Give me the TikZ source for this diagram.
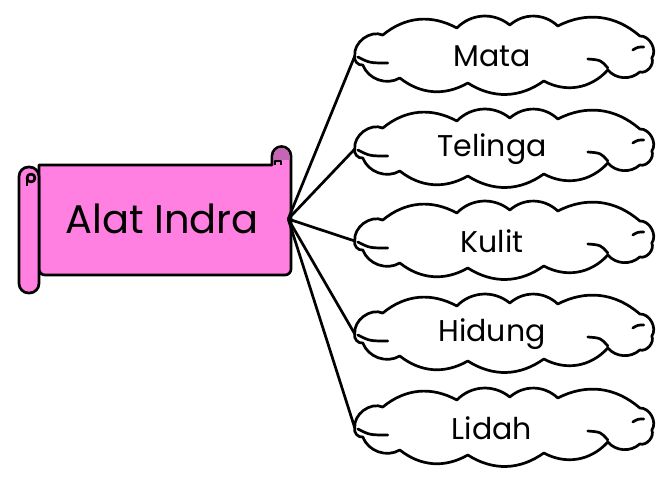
\documentclass[tikz,border=0pt]{standalone}
\usepackage{fontspec}
\setmainfont{Poppins}
\usetikzlibrary{calc}
\definecolor{ScrollPink}{HTML}{FF80E0}
\definecolor{ScrollCurl}{HTML}{C566B5}
% cloud outline drawn from the west tip of a sense node
\newcommand{\senseCloud}[1]{%
  \begin{scope}[shift={(#1.west)}]
    \draw[puffline] (0,0) to[bend left=60] (28,21) to[bend left=34] (102,28)
      to[bend left=42] (155,31) to[bend left=42] (203,30)
      to[bend left=34] (285,20) to[bend left=65] (297,-2)
      to[bend left=65] (285,-16) to[bend left=45] (253,-14)
      to[bend left=38] (189,-25) to[bend left=34] (113,-27)
      to[bend left=34] (45,-22) to[bend left=50] (8,-9)
      to[bend left=60] cycle;
    \draw[puffline] (3,-1) .. controls (15,-7) .. (33,-7);
    \draw[puffline] (233,-3) .. controls (246,-4) .. (253,-12);
    \draw[puffline] (278,6) .. controls (283,9) .. (289,9);
  \end{scope}}

\begin{document}
\begin{tikzpicture}[x=1pt,y=1pt,
  scrollline/.style={line width=2.7pt,line join=round},
  sense/.style={minimum width=274pt,minimum height=72pt,inner sep=0pt,
    font=\fontsize{30}{36}\selectfont},
  link/.style={line width=2.7pt},
  puffline/.style={line width=2.7pt,line cap=round,line join=round}]
  \useasboundingbox (0,0) rectangle (672,-484);

  % scroll body with the rolled up corner
  \draw[scrollline,fill=ScrollPink] (39,-275) -- (39,-165) -- (272,-165)
    -- (272,-156) arc[start angle=180,end angle=0,radius=9.5pt]
    {[rounded corners=6pt] -- (291,-275) -- (39,-275)} -- cycle;
  \fill[ScrollCurl] (273.5,-156) arc[start angle=180,end angle=0,radius=8pt]
    -- (289.5,-160) -- (273.5,-160) -- cycle;
  \draw[scrollline,fill=ScrollPink] (275,-165) -- (275,-161) -- (281,-161)
    -- (281,-165);
  % left roll
  \draw[scrollline,fill=ScrollPink,rounded corners=9.5pt]
    (19,-167) rectangle (39,-293);
  \draw[scrollline] (31,-178) circle (4pt);
  \draw[scrollline] (27,-178) -- (27,-186);

  \node[minimum width=252pt,minimum height=110pt,inner sep=0pt,
    font=\fontsize{40}{48}\selectfont]
    (alat) at (162,-219) {Alat Indra};

  \node[sense] (mata)    at (492,-56)  {Mata};
  \node[sense] (telinga) at (492,-149) {Telinga};
  \node[sense] (kulit)   at (492,-241) {Kulit};
  \node[sense] (hidung)  at (492,-334) {Hidung};
  \node[sense] (lidah)   at (492,-428) {Lidah};
  \senseCloud{mata}
  \senseCloud{telinga}
  \senseCloud{kulit}
  \senseCloud{hidung}
  \senseCloud{lidah}

  \draw[link] (alat.east) -- (mata.west);
  \draw[link] (alat.east) -- (telinga.west);
  \draw[link] (alat.east) -- (kulit.west);
  \draw[link] (alat.east) -- (hidung.west);
  \draw[link] (alat.east) -- (lidah.west);
\end{tikzpicture}
\end{document}
